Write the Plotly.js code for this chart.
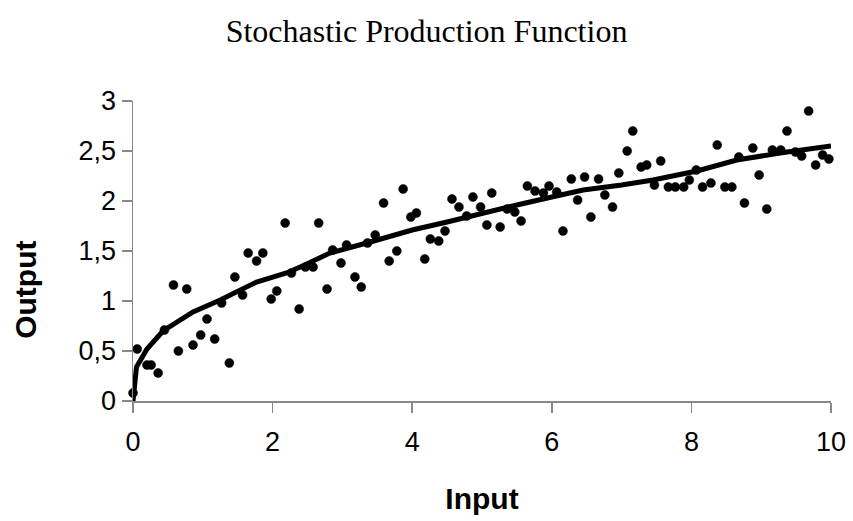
<!DOCTYPE html>
<html>
<head>
<meta charset="utf-8">
<script src="https://cdn.plot.ly/plotly-3.0.1.min.js"></script>
<style>html,body{margin:0;padding:0;background:#fff;}#chart{width:853px;height:521px;}</style>
</head>
<body>
<div id="chart"></div>
<script>
var inputX = [0.0,0.06,0.2,0.26,0.36,0.45,0.58,0.65,0.77,0.86,0.97,1.06,1.17,1.27,1.38,1.46,1.57,1.65,1.77,1.86,1.98,2.06,2.18,2.27,2.38,2.47,2.58,2.66,2.78,2.86,2.98,3.06,3.18,3.27,3.36,3.47,3.59,3.67,3.78,3.87,3.98,4.06,4.18,4.26,4.38,4.47,4.57,4.67,4.78,4.87,4.98,5.07,5.14,5.26,5.36,5.47,5.56,5.65,5.76,5.88,5.96,6.07,6.16,6.28,6.37,6.47,6.56,6.67,6.76,6.87,6.96,7.08,7.16,7.28,7.36,7.47,7.56,7.67,7.77,7.89,7.97,8.07,8.16,8.28,8.37,8.48,8.58,8.68,8.76,8.88,8.97,9.08,9.16,9.28,9.37,9.49,9.58,9.68,9.78,9.88,9.97];
var outputY = [0.08,0.52,0.36,0.36,0.28,0.71,1.16,0.50,1.12,0.56,0.66,0.82,0.62,0.98,0.38,1.24,1.06,1.48,1.40,1.48,1.02,1.10,1.78,1.28,0.92,1.34,1.34,1.78,1.12,1.51,1.38,1.56,1.24,1.14,1.58,1.66,1.98,1.40,1.50,2.12,1.84,1.88,1.42,1.62,1.60,1.70,2.02,1.94,1.85,2.04,1.94,1.76,2.08,1.74,1.92,1.89,1.80,2.15,2.10,2.08,2.15,2.09,1.70,2.22,2.01,2.24,1.84,2.22,2.06,1.94,2.28,2.50,2.70,2.34,2.36,2.16,2.40,2.14,2.14,2.14,2.21,2.31,2.14,2.18,2.56,2.14,2.14,2.44,1.98,2.53,2.26,1.92,2.51,2.51,2.70,2.49,2.45,2.90,2.36,2.46,2.42];
var curveX = [0,0.05,0.2,0.43,0.86,1.25,1.77,2.2,2.46,2.82,3.4,4.0,4.5,5.0,5.5,6.0,6.45,7.0,7.45,8.08,8.65,9.27,10];
var curveY = [0,0.34,0.52,0.70,0.89,1.01,1.19,1.28,1.36,1.48,1.59,1.71,1.79,1.88,1.96,2.04,2.11,2.16,2.21,2.30,2.41,2.48,2.55];
var xTicks = [0,2,4,6,8,10];
var yTicks = [0,0.5,1,1.5,2,2.5,3];

var traces = [
  {x: inputX, y: outputY, type: 'scatter', mode: 'markers', cliponaxis: false,
   marker: {size: 9, color: '#000', line: {color: '#000', width: 0.5}}, hoverinfo: 'x+y'},
  {x: curveX, y: curveY, type: 'scatter', mode: 'lines', cliponaxis: false,
   line: {color: '#000', width: 5}, hoverinfo: 'skip'}
];
var axisFont = {family: 'Arial, Liberation Sans, sans-serif', size: 27, color: '#000'};
var titleFont = {family: 'Arial, Liberation Sans, sans-serif', size: 30, color: '#000'};
var layout = {
  width: 853, height: 521,
  margin: {l: 133, r: 22, t: 101, b: 120},
  paper_bgcolor: '#fff', plot_bgcolor: '#fff',
  showlegend: false,
  separators: ', ',
  title: {text: 'Stochastic Production Function', xref: 'container', x: 0.5, xanchor: 'center',
          yref: 'container', y: 0.94, yanchor: 'middle',
          font: {family: 'Liberation Serif, Times New Roman, serif', size: 32, color: '#000'}},
  xaxis: {range: [0, 10], tickvals: xTicks, showgrid: false, zeroline: false,
          showline: true, linecolor: '#888', linewidth: 1.5,
          ticks: 'outside', ticklen: 10, tickcolor: '#888', tickwidth: 1.5,
          tickfont: axisFont, ticklabelstandoff: 6,
          title: {text: '<b>Input</b>', font: titleFont, standoff: 32}},
  yaxis: {range: [0, 3], tickvals: yTicks, showgrid: false, zeroline: false,
          showline: true, linecolor: '#888', linewidth: 1.5,
          ticks: 'outside', ticklen: 10, tickcolor: '#888', tickwidth: 1.5,
          tickfont: axisFont},
  annotations: [{text: '<b>Output</b>', textangle: -90, showarrow: false,
                 xref: 'paper', x: -0.155, xanchor: 'center',
                 yref: 'paper', y: 0.37, yanchor: 'middle', font: titleFont}]
};
Plotly.newPlot('chart', traces, layout, {displayModeBar: false, staticPlot: true});
</script>
</body>
</html>
